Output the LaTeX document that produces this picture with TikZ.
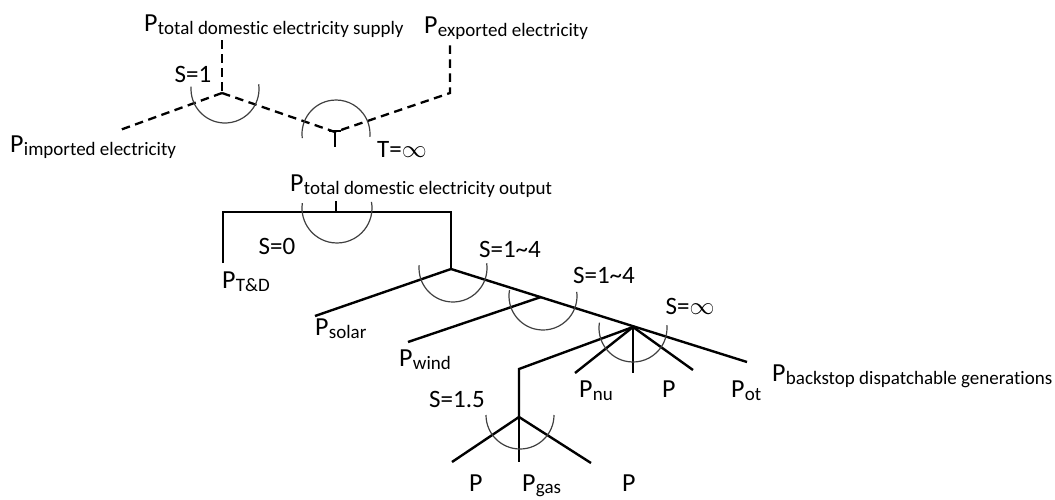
\documentclass[tikz,border=0pt]{standalone}
\usepackage{fontspec}
\setmainfont{Carlito}[Ligatures={NoCommon,NoRare,NoContextual}]
\newcommand{\Plab}[1]{{\fontsize{26}{28}\selectfont P}\kern0.5pt\raisebox{-3pt}{\fontsize{19}{21}\selectfont #1}}
\begin{document}
\begin{tikzpicture}[x=1pt,y=-1pt,
  lab/.style={inner sep=0pt, outer sep=0pt, anchor=base west},
  slab/.style={inner sep=0pt, outer sep=0pt, anchor=base, font=\fontsize{25}{27}\selectfont},
  solidln/.style={line width=2.4pt, black, line join=miter},
  dashln/.style={line width=2.3pt, black, dash pattern=on 8.5pt off 5.5pt},
  arcln/.style={line width=1.2pt, black!75}]
\useasboundingbox (0,0) rectangle (1055,499);

% ---------- labels ----------
\node[lab] (supply) at (144,31) {\Plab{total domestic electricity supply}};
\node[lab] (exported) at (424,33) {\Plab{exported electricity}};
\node[lab] (imported) at (10,152) {\Plab{imported electricity}};
\node[lab] (output) at (290,191) {\Plab{total domestic electricity output}};
\node[lab] (td) at (222,288) {\Plab{T\&D}};
\node[lab] (solar) at (315,335) {\Plab{solar}};
\node[lab] (wind) at (399,366) {\Plab{wind}};
\node[lab] (nu) at (579,397) {\Plab{nu}};
\node[lab] (pmid) at (662,397) {\fontsize{26}{28}\selectfont P};
\node[lab] (ot) at (731,397) {\Plab{ot}};
\node[lab] (backstop) at (772,381) {\Plab{backstop dispatchable generations}};
\node[lab] (pl) at (469,491) {\fontsize{26}{28}\selectfont P};
\node[lab] (gas) at (522,491) {{\fontsize{26}{28}\selectfont P}\kern0.5pt\raisebox{-2pt}{\fontsize{19}{21}\selectfont gas}};
\node[lab] (pr) at (622,491) {\fontsize{26}{28}\selectfont P};

\node[slab] (s1) at (193,82) {S=1};
\node[slab] (tinf) at (402,157) {T=$\infty$};
\node[slab] (s0) at (277,254) {S=0};
\node[slab] (s14a) at (510,257) {S=1\textasciitilde 4};
\node[slab] (s14b) at (604,283) {S=1\textasciitilde 4};
\node[slab] (sinf) at (690,314) {S=$\infty$};
\node[slab] (s15) at (457,407) {S=1.5};

% ---------- coordinates ----------
\coordinate (supE) at (222,40);
\coordinate (J0) at (222,93);
\coordinate (impE) at (120,130);
\coordinate (Tj) at (335,132);
\coordinate (expB) at (450,93);
\coordinate (expE) at (450,43);
\coordinate (TbL) at (329,131);
\coordinate (TbR) at (341,131);
\coordinate (Ts) at (335,147);

\coordinate (outT) at (336,201);
\coordinate (outB) at (336,212);
\coordinate (hL) at (223,212);
\coordinate (hR) at (451,212);
\coordinate (tdE) at (223,263);
\coordinate (J1) at (451,269);
\coordinate (solE) at (315,316);
\coordinate (J2) at (541,297);
\coordinate (windE) at (408,342);
\coordinate (J3) at (633,327);
\coordinate (bsE) at (747,362);
\coordinate (nuE) at (575,373);
\coordinate (midE) at (633,373);
\coordinate (otE) at (693,370);
\coordinate (gB) at (519,369);
\coordinate (G) at (519,417);
\coordinate (gL) at (452,462);
\coordinate (gM) at (519,462);
\coordinate (gR) at (591,463);

% ---------- dashed top ----------
\draw[dashln] (supE) -- (J0);
\draw[dashln] (J0) -- (impE);
\draw[dashln] (J0) -- (Tj) -- (expB) -- (expE);
\draw[line width=1.8pt] (TbL) -- (TbR);
\draw[line width=1.8pt] (Tj) -- (Ts);

% ---------- solid tree ----------
\draw[solidln] (outT) -- (outB);
\draw[solidln] (tdE) -- (hL) -- (hR) -- (J1);
\draw[solidln] (J1) -- (solE);
\draw[solidln] (J1) -- (bsE);
\draw[solidln] (J2) -- (windE);
\draw[solidln] (J3) -- (nuE);
\draw[solidln] (J3) -- (midE);
\draw[solidln] (J3) -- (otE);
\draw[solidln] (J3) -- (gB) -- (G);
\draw[solidln] (G) -- (gL);
\draw[solidln] (G) -- (gM);
\draw[solidln] (G) -- (gR);

% ---------- arcs ----------
\draw[arcln] (225,89) ++(184:34) arc (184:-8:34);
\draw[arcln] (336,134) ++(173:34) arc (173:365:34);
\draw[arcln] (337,208) ++(188:35) arc (188:-10:35);
\draw[arcln] (453,268) ++(185:34) arc (185:-8:34);
\draw[arcln] (543,296) ++(190:34) arc (190:-7:34);
\draw[arcln] (633,328) ++(189:34) arc (189:-5:34);
\draw[arcln] (520,415) ++(180:34) arc (180:0:34);
\end{tikzpicture}
\end{document}
